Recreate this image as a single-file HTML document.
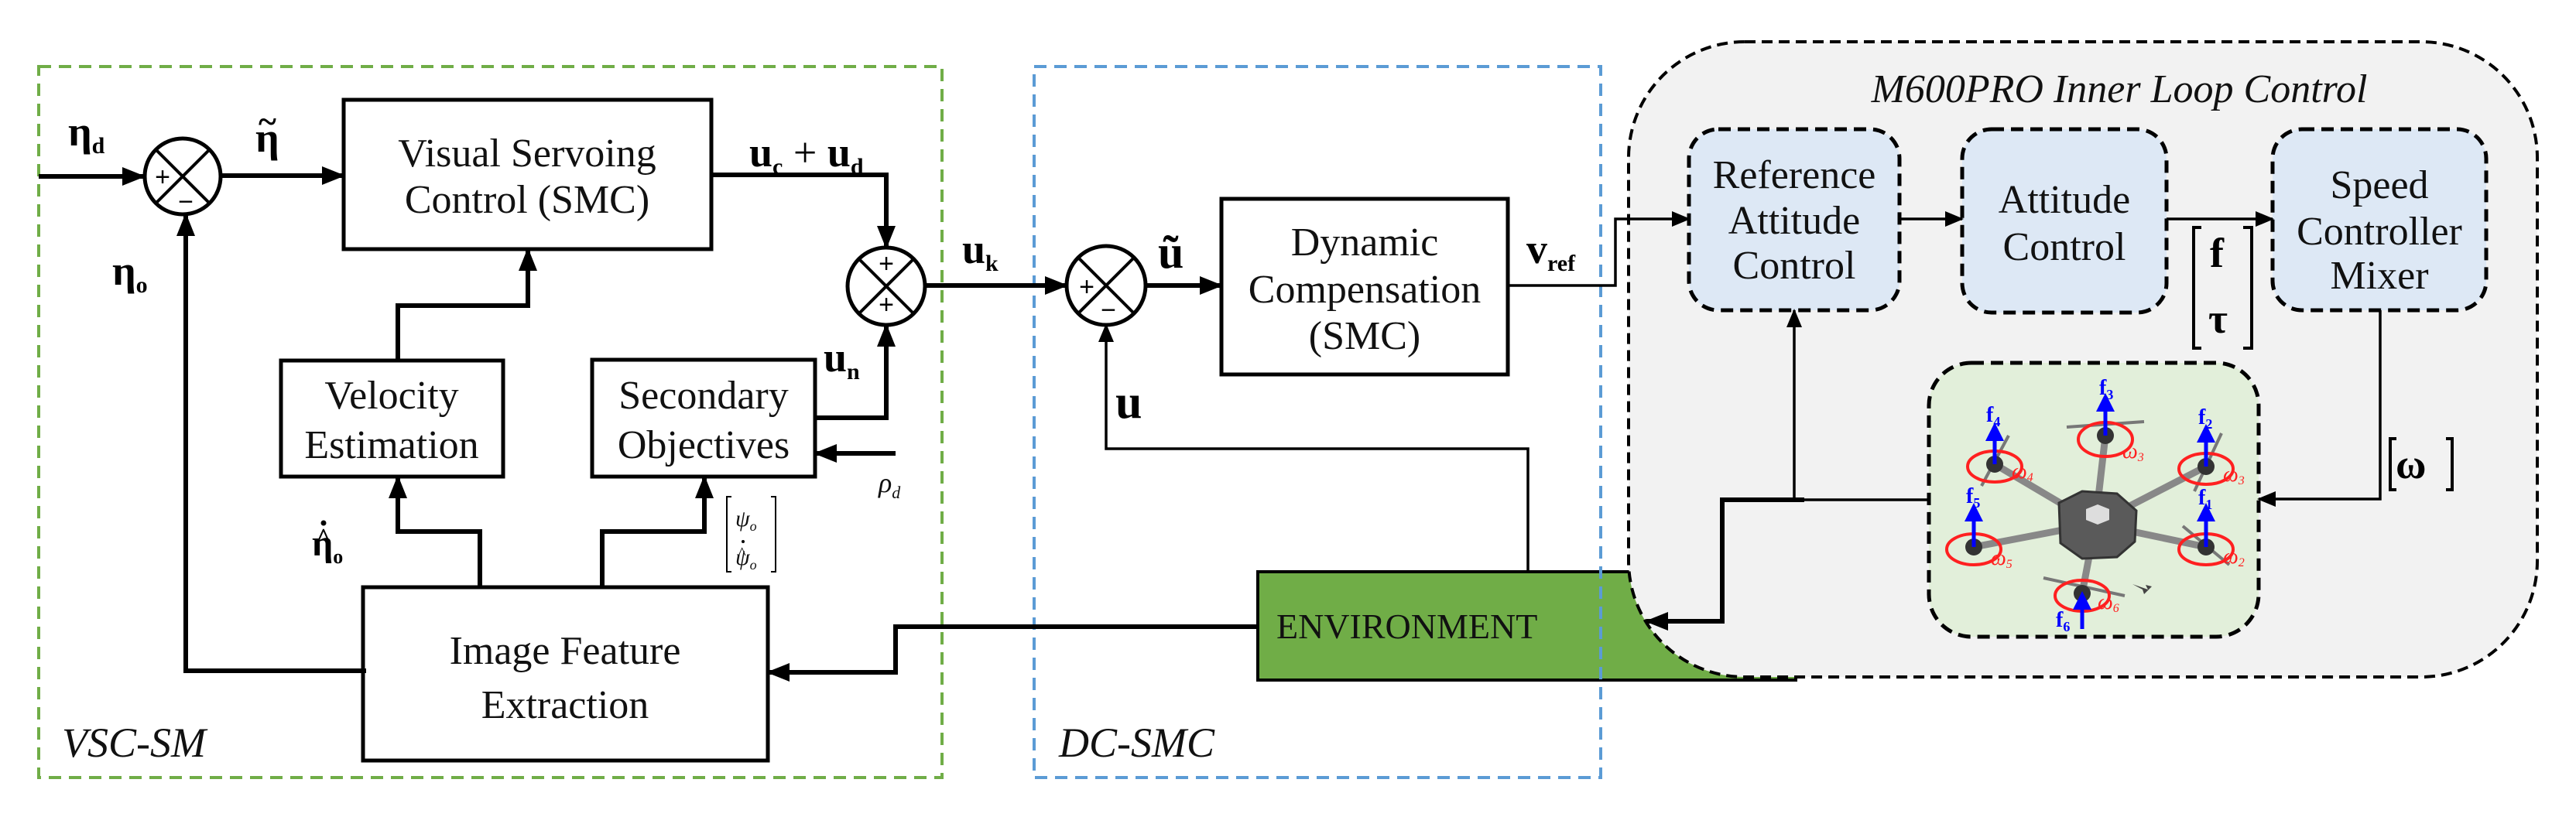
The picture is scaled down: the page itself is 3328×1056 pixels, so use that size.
<!DOCTYPE html>
<html><head><meta charset="utf-8"><style>
html,body{margin:0;padding:0;background:#fff;}
svg{display:block;}
.bx{font-family:"Liberation Serif","DejaVu Serif",serif;font-size:52px;fill:#111;}
.m{font-family:"Liberation Serif","DejaVu Serif",serif;font-weight:bold;fill:#000;}
.it{font-family:"Liberation Serif","DejaVu Serif",serif;font-style:italic;fill:#111;}
</style></head><body>
<svg width="3328" height="1056" viewBox="0 0 3328 1056" xmlns="http://www.w3.org/2000/svg">
<defs>
<marker id="a" markerUnits="userSpaceOnUse" markerWidth="30" markerHeight="24" refX="28" refY="12" orient="auto"><path d="M0,0 L30,12 L0,24 z" fill="#000"/></marker>
<marker id="s" markerUnits="userSpaceOnUse" markerWidth="24" markerHeight="20" refX="22" refY="10" orient="auto"><path d="M0,0 L24,10 L0,20 z" fill="#000"/></marker>
<marker id="b" markerUnits="userSpaceOnUse" markerWidth="24" markerHeight="24" refX="2" refY="12" orient="auto"><path d="M0,0 L24,12 L0,24 z" fill="#0000ff"/></marker>
</defs>

<rect x="1625" y="739" width="695" height="140" fill="#70ad47" stroke="#000" stroke-width="4"/>
<rect x="2104" y="54" width="1174" height="821" rx="150" ry="150" fill="#f2f2f2" stroke="#000" stroke-width="4" stroke-dasharray="14,8"/>
<text x="1649" y="825" class="bx" style="font-size:46px">ENVIRONMENT</text>

<rect x="50" y="86" width="1167" height="919" fill="none" stroke="#70ad47" stroke-width="4" stroke-dasharray="16,10"/>
<rect x="1336" y="86" width="732" height="919" fill="none" stroke="#5b9bd5" stroke-width="4" stroke-dasharray="16,10"/>
<text x="80" y="978" class="it" font-size="54">VSC-SM</text>
<text x="1368" y="978" class="it" font-size="54">DC-SMC</text>
<text x="2738" y="132" class="it" font-size="52" text-anchor="middle">M600PRO Inner Loop Control</text>

<g fill="#fff" stroke="#000" stroke-width="5">
<rect x="444" y="129" width="475" height="193"/>
<rect x="363" y="466" width="287" height="150"/>
<rect x="765" y="465" width="288" height="151"/>
<rect x="469" y="759" width="523" height="224"/>
<rect x="1578" y="257" width="370" height="227"/>
</g>
<g class="bx" text-anchor="middle">
<text x="681" y="215">Visual Servoing</text>
<text x="681" y="275">Control (SMC)</text>
<text x="506" y="528">Velocity</text>
<text x="506" y="592">Estimation</text>
<text x="909" y="528">Secondary</text>
<text x="909" y="592">Objectives</text>
<text x="730" y="858">Image Feature</text>
<text x="730" y="928">Extraction</text>
<text x="1763" y="330">Dynamic</text>
<text x="1763" y="391">Compensation</text>
<text x="1763" y="451">(SMC)</text>
</g>

<g fill="#dde8f5" stroke="#000" stroke-width="5" stroke-dasharray="16,9">
<rect x="2182" y="167" width="272" height="234" rx="38"/>
<rect x="2535" y="167" width="264" height="237" rx="38"/>
<rect x="2936" y="167" width="276" height="234" rx="38"/>
</g>
<rect x="2492" y="469" width="426" height="354" rx="55" fill="#e2efda" stroke="#000" stroke-width="5" stroke-dasharray="16,9"/>
<g class="bx" text-anchor="middle">
<text x="2318" y="243">Reference</text>
<text x="2318" y="302">Attitude</text>
<text x="2318" y="360">Control</text>
<text x="2667" y="275">Attitude</text>
<text x="2667" y="336">Control</text>
<text x="3074" y="256">Speed</text>
<text x="3074" y="316">Controller</text>
<text x="3074" y="373">Mixer</text>
</g>

<g fill="#fff" stroke="#000" stroke-width="5">
<circle cx="236" cy="228" r="49"/>
<circle cx="1145" cy="370" r="50"/>
<circle cx="1429" cy="369" r="51"/>
</g>
<g stroke="#000" stroke-width="4">
<path d="M201,193 L271,263 M271,193 L201,263"/>
<path d="M1110,335 L1180,405 M1180,335 L1110,405"/>
<path d="M1393,333 L1465,405 M1465,333 L1393,405"/>
</g>
<g font-family="Liberation Sans,sans-serif" font-size="34" fill="#000" text-anchor="middle">
<text x="210" y="240">+</text><text x="240" y="272">−</text>
<text x="1145" y="352">+</text><text x="1145" y="405">+</text>
<text x="1404" y="382">+</text><text x="1432" y="412">−</text>
</g>

<g fill="none" stroke="#000" stroke-width="6">
<path d="M50,228 L186,228" marker-end="url(#a)"/>
<path d="M286,227 L444,227" marker-end="url(#a)"/>
<path d="M919,226 L1145,226 L1145,320" marker-end="url(#a)"/>
<path d="M1053,540 L1145,540 L1145,420" marker-end="url(#a)"/>
<path d="M1157,586 L1053,586" marker-end="url(#a)"/>
<path d="M473,867 L240,867 L240,277" marker-end="url(#a)"/>
<path d="M514,466 L514,395 L682,395 L682,322" marker-end="url(#a)"/>
<path d="M620,759 L620,687 L514,687 L514,616" marker-end="url(#a)"/>
<path d="M778,759 L778,687 L910,687 L910,616" marker-end="url(#a)"/>
<path d="M1625,810 L1157,810 L1157,869 L992,869" marker-end="url(#a)"/>
<path d="M1195,369 L1378,369" marker-end="url(#a)"/>
<path d="M1480,369 L1578,369" marker-end="url(#a)"/>
<path d="M2331,646 L2225,646 L2225,803 L2127,803" marker-end="url(#a)"/>
</g>
<g fill="none" stroke="#000" stroke-width="3.5">
<path d="M1974,739 L1974,580 L1429,580 L1429,420" marker-end="url(#s)"/>
<path d="M1948,369 L2087,369 L2087,283 L2182,283" marker-end="url(#s)"/>
<path d="M2454,283 L2535,283" marker-end="url(#s)"/>
<path d="M2799,283 L2936,283" marker-end="url(#s)"/>
<path d="M3075,401 L3075,645 L2918,645" marker-end="url(#s)"/>
<path d="M2492,646 L2318,646 L2318,401" marker-end="url(#s)"/>
</g>

<g class="m" font-size="54">
<text x="88" y="188">η<tspan font-size="30" dy="10">d</tspan></text>
<text x="330" y="196">η</text>
<text x="334" y="172" font-size="44">~</text>
<text x="968" y="215">u<tspan font-size="30" dy="10">c</tspan><tspan dy="-10" font-weight="normal"> + </tspan>u<tspan font-size="30" dy="10">d</tspan></text>
<text x="145" y="368">η<tspan font-size="30" dy="10">o</tspan></text>
<text x="1243" y="340">u<tspan font-size="30" dy="10">k</tspan></text>
<text x="1064" y="480">u<tspan font-size="30" dy="10">n</tspan></text>
<text x="1496" y="346" font-size="60">ũ</text>
<text x="1441" y="540" font-size="62">u</text>
<text x="1972" y="340">v<tspan font-size="30" dy="10">ref</tspan></text>
<text x="403" y="718" font-size="48">η<tspan font-size="26" dy="10">o</tspan></text>
<text x="2855" y="345">f</text>
<text x="2853" y="430">τ</text>
<text x="3095" y="618">ω</text>
</g>
<text x="408" y="706" font-family="Liberation Serif,serif" font-weight="bold" font-size="34">^</text>
<circle cx="418" cy="676" r="3.5" fill="#000"/>
<text x="1135" y="636" class="it" font-size="36">ρ<tspan font-size="22" dy="8">d</tspan></text>
<g class="it" font-size="30">
<text x="950" y="680">ψ<tspan font-size="18" dy="6">o</tspan></text>
<text x="950" y="730">ψ<tspan font-size="18" dy="6">o</tspan></text>
<text x="953" y="722" font-size="22">^</text>
</g>
<circle cx="960" cy="700" r="2" fill="#000"/>
<g fill="none" stroke="#000" stroke-width="2">
<path d="M945,642 L939,642 L939,739 L945,739 M996,642 L1002,642 L1002,739 L996,739"/>
</g>
<g fill="none" stroke="#000" stroke-width="4">
<path d="M2844,294 L2834,294 L2834,450 L2844,450 M2898,294 L2909,294 L2909,450 L2898,450"/>
<path d="M3096,567 L3088,567 L3088,633 L3096,633 M3160,567 L3168,567 L3168,633 L3160,633"/>
</g>

<g stroke="#888" stroke-width="9" stroke-linecap="round">
<path d="M2707,677 L2577,600 M2707,677 L2720,563 M2707,677 L2850,603 M2707,677 L2550,707 M2707,677 L2850,707 M2707,677 L2690,767"/>
</g>
<g stroke="#777" stroke-width="4">
<path d="M2670,552 L2770,545 M2560,628 L2595,563 M2835,635 L2870,560 M2820,680 L2880,730 M2640,747 L2745,770"/>
</g>
<polygon points="2660,650 2690,635 2735,638 2760,660 2758,700 2735,720 2690,722 2662,702" fill="#5a5a5a" stroke="#333" stroke-width="3"/>
<polygon points="2695,658 2710,652 2725,658 2725,672 2710,678 2695,672" fill="#ddd"/>
<g fill="#333"><circle cx="2577" cy="600" r="11"/><circle cx="2720" cy="563" r="11"/><circle cx="2850" cy="603" r="11"/><circle cx="2550" cy="707" r="11"/><circle cx="2850" cy="707" r="11"/><circle cx="2690" cy="767" r="11"/></g>
<g fill="none" stroke="#ff2020" stroke-width="4">
<ellipse cx="2577" cy="603" rx="35" ry="20"/><ellipse cx="2720" cy="568" rx="35" ry="22"/><ellipse cx="2850" cy="606" rx="35" ry="20"/>
<ellipse cx="2550" cy="710" rx="35" ry="20"/><ellipse cx="2850" cy="710" rx="35" ry="20"/><ellipse cx="2690" cy="770" rx="35" ry="20"/>
</g>
<g stroke="#0000ff" stroke-width="5">
<path d="M2577,600 L2577,568" marker-end="url(#b)"/>
<path d="M2720,563 L2720,530" marker-end="url(#b)"/>
<path d="M2850,603 L2850,570" marker-end="url(#b)"/>
<path d="M2550,707 L2550,672" marker-end="url(#b)"/>
<path d="M2850,707 L2850,672" marker-end="url(#b)"/>
<path d="M2690,813 L2690,786" marker-end="url(#b)"/>
</g>
<g class="m" font-size="28">
<text x="2566" y="545" fill="#0000ff">f<tspan font-size="18" dy="6">4</tspan></text>
<text x="2712" y="510" fill="#0000ff">f<tspan font-size="18" dy="6">3</tspan></text>
<text x="2840" y="548" fill="#0000ff">f<tspan font-size="18" dy="6">2</tspan></text>
<text x="2540" y="650" fill="#0000ff">f<tspan font-size="18" dy="6">5</tspan></text>
<text x="2840" y="652" fill="#0000ff">f<tspan font-size="18" dy="6">1</tspan></text>
<text x="2656" y="810" fill="#0000ff">f<tspan font-size="18" dy="6">6</tspan></text>
</g>
<g class="it" font-size="28">
<text x="2599" y="618" fill="#ff2020">ω<tspan font-size="16" dy="4">4</tspan></text>
<text x="2742" y="592" fill="#ff2020">ω<tspan font-size="16" dy="4">3</tspan></text>
<text x="2872" y="622" fill="#ff2020">ω<tspan font-size="16" dy="4">3</tspan></text>
<text x="2572" y="730" fill="#ff2020">ω<tspan font-size="16" dy="4">5</tspan></text>
<text x="2872" y="728" fill="#ff2020">ω<tspan font-size="16" dy="4">2</tspan></text>
<text x="2710" y="787" fill="#ff2020">ω<tspan font-size="16" dy="4">6</tspan></text>
</g>
<path d="M2755,755 L2775,762 L2772,756 L2780,758 L2770,768 L2768,762" fill="#444"/>
</svg>
</body></html>
